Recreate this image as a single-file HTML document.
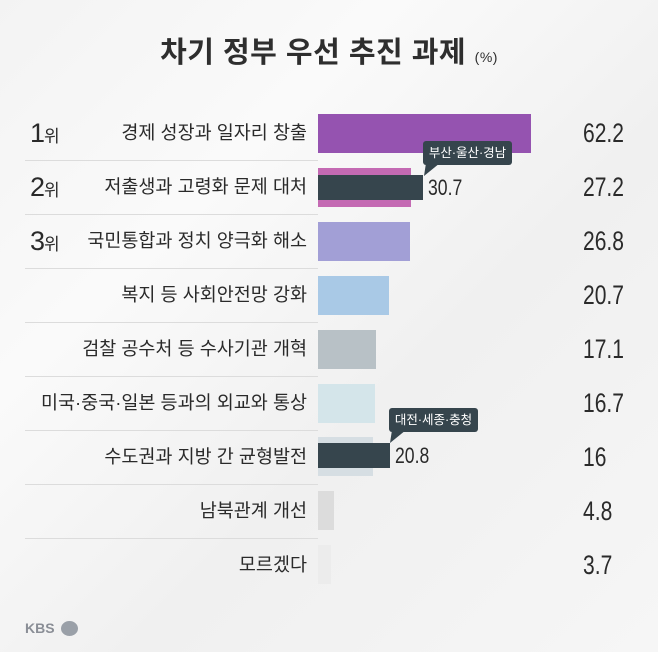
<!DOCTYPE html>
<html><head><meta charset="utf-8"><style>
body{margin:0;width:658px;height:652px;overflow:hidden;background:linear-gradient(135deg,#f3f3f3 0%,#fafafa 30%,#f0f0f0 60%,#f6f6f6 100%);font-family:"Liberation Sans","Noto Sans CJK KR",sans-serif;position:relative;color:#2a2a2a}
.a{position:absolute}
.t{left:0;width:658px;top:29px;text-align:center;font-size:29px;font-weight:bold;color:#2e2e2e;letter-spacing:0.5px}
.t span{font-size:14px;font-weight:normal}
.lab{right:351px;font-size:18.5px;white-space:nowrap;line-height:22px}
.rk{left:30px;font-size:27px;line-height:30px;letter-spacing:-1px}
.rk small{font-size:17px}
.val{left:583px;font-size:27px;line-height:30px;color:#2a2a2a;transform:scaleX(0.78);transform-origin:left center}
.sep{left:25px;width:293px;height:1px;background:#dcdcdc}
.bar{left:318px;height:39px}
.tip{background:#36454d;color:#fff;font-size:12.5px;height:24px;line-height:24px;text-align:center;border-radius:3px}
.dk{background:#36454d;height:25px;left:318px}
.num{font-size:22px;line-height:25px;transform:scaleX(0.8);transform-origin:left center}
</style></head><body>
<div class="a t">차기 정부 우선 추진 과제 <span>(%)</span></div>

<div class="a rk" style="top:118px">1<small>위</small></div>
<div class="a rk" style="top:172px">2<small>위</small></div>
<div class="a rk" style="top:226px">3<small>위</small></div>

<div class="a lab" style="top:122px">경제 성장과 일자리 창출</div>
<div class="a lab" style="top:176px">저출생과 고령화 문제 대처</div>
<div class="a lab" style="top:230px">국민통합과 정치 양극화 해소</div>
<div class="a lab" style="top:284px">복지 등 사회안전망 강화</div>
<div class="a lab" style="top:338px">검찰 공수처 등 수사기관 개혁</div>
<div class="a lab" style="top:392px">미국·중국·일본 등과의 외교와 통상</div>
<div class="a lab" style="top:446px">수도권과 지방 간 균형발전</div>
<div class="a lab" style="top:500px">남북관계 개선</div>
<div class="a lab" style="top:554px">모르겠다</div>

<div class="a sep" style="top:160px"></div>
<div class="a sep" style="top:214px"></div>
<div class="a sep" style="top:268px"></div>
<div class="a sep" style="top:322px"></div>
<div class="a sep" style="top:376px"></div>
<div class="a sep" style="top:430px"></div>
<div class="a sep" style="top:484px"></div>
<div class="a sep" style="top:538px"></div>

<div class="a bar" style="top:114px;width:213px;background:#9553b0"></div>
<div class="a bar" style="top:168px;width:93px;background:#c46ab3"></div>
<div class="a bar" style="top:222px;width:92px;background:#a29fd6"></div>
<div class="a bar" style="top:276px;width:71px;background:#a9c9e6"></div>
<div class="a bar" style="top:330px;width:58px;background:#b8c1c6"></div>
<div class="a bar" style="top:384px;width:57px;background:#d4e5ea"></div>
<div class="a bar" style="top:437px;width:55px;background:#d6dee3"></div>
<div class="a bar" style="top:491px;width:16px;background:#dcdcdc"></div>
<div class="a bar" style="top:545px;width:13px;background:#ececec"></div>

<div class="a dk" style="top:175px;width:105px"></div>
<div class="a num" style="left:428px;top:175px">30.7</div>
<div class="a tip" style="left:423px;top:141px;width:89px">부산·울산·경남</div>
<svg class="a" style="left:424px;top:163px" width="20" height="14"><polygon points="2,0 16,0 0,13" fill="#36454d"/></svg>

<div class="a dk" style="top:443px;width:72px"></div>
<div class="a num" style="left:395px;top:443px">20.8</div>
<div class="a tip" style="left:389px;top:408px;width:89px">대전·세종·충청</div>
<svg class="a" style="left:390px;top:430px" width="20" height="14"><polygon points="2,0 16,0 0,13" fill="#36454d"/></svg>

<div class="a val" style="top:118px">62.2</div>
<div class="a val" style="top:172px">27.2</div>
<div class="a val" style="top:226px">26.8</div>
<div class="a val" style="top:280px">20.7</div>
<div class="a val" style="top:334px">17.1</div>
<div class="a val" style="top:388px">16.7</div>
<div class="a val" style="top:442px">16</div>
<div class="a val" style="top:496px">4.8</div>
<div class="a val" style="top:550px">3.7</div>

<div class="a" style="left:25px;top:620px;font-size:14px;font-weight:bold;color:#8a8e96">KBS</div>
<div class="a" style="left:61px;top:621px;width:17px;height:15px;border-radius:50%;background:#9aa0a8"></div>
</body></html>
